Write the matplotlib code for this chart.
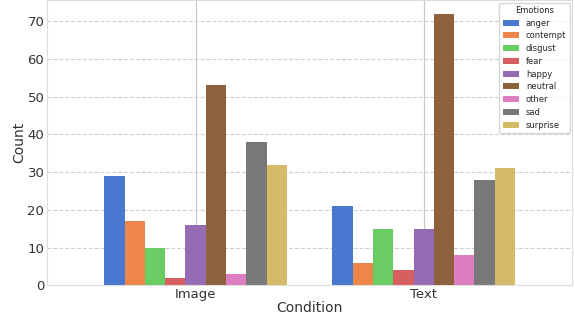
import numpy as np
import matplotlib
matplotlib.use("Agg")
import matplotlib.pyplot as plt
import seaborn as sns

conditions = ["Image", "Text"]
emotions = ["anger", "contempt", "disgust", "fear", "happy",
            "neutral", "other", "sad", "surprise"]
image_counts = [29, 17, 10, 2, 16, 53, 3, 38, 32]
text_counts = [21, 6, 15, 4, 15, 72, 8, 28, 31]

sns.set_style("whitegrid")
plt.rcParams['font.family'] = ['DejaVu Sans']
colors = sns.color_palette("muted", len(emotions))

fig, ax = plt.subplots(figsize=(5.75, 3.2), dpi=100)
counts = np.array([image_counts, text_counts])
x = np.arange(len(conditions))
n = len(emotions)
w = 0.8 / n
for i, emo in enumerate(emotions):
    ax.bar(x - 0.4 + w * (i + 0.5), counts[:, i], width=w, color=colors[i],
           label=emo, zorder=2, linewidth=0)

ax.set_xticks(x)
ax.set_xticklabels(conditions)
ax.set_xlim(-0.65, 1.65)
ax.set_ylim(0, 75.6)
ax.set_xlabel("Condition", fontsize=10, labelpad=0, color='#333333')
ax.set_ylabel("Count", fontsize=10, labelpad=1, color='#333333')
ax.tick_params(axis='both', labelsize=9.5, colors='#333333', length=0, pad=2)
ax.grid(axis='y', linestyle='--', color='#d0d0d0', linewidth=0.8)
ax.grid(axis='x', linestyle='-', color='#c8c8c8', linewidth=0.9)
ax.set_axisbelow(True)
for s in ax.spines.values():
    s.set_color('#dddddd')

leg = ax.legend(title="Emotions", fontsize=6, title_fontsize=6,
                loc='upper right', frameon=True, handlelength=2.0,
                labelspacing=0.45, borderaxespad=0.3)

plt.subplots_adjust(left=0.082, right=0.995, top=1.0, bottom=0.108)
fig.savefig("out.png", dpi=100)
